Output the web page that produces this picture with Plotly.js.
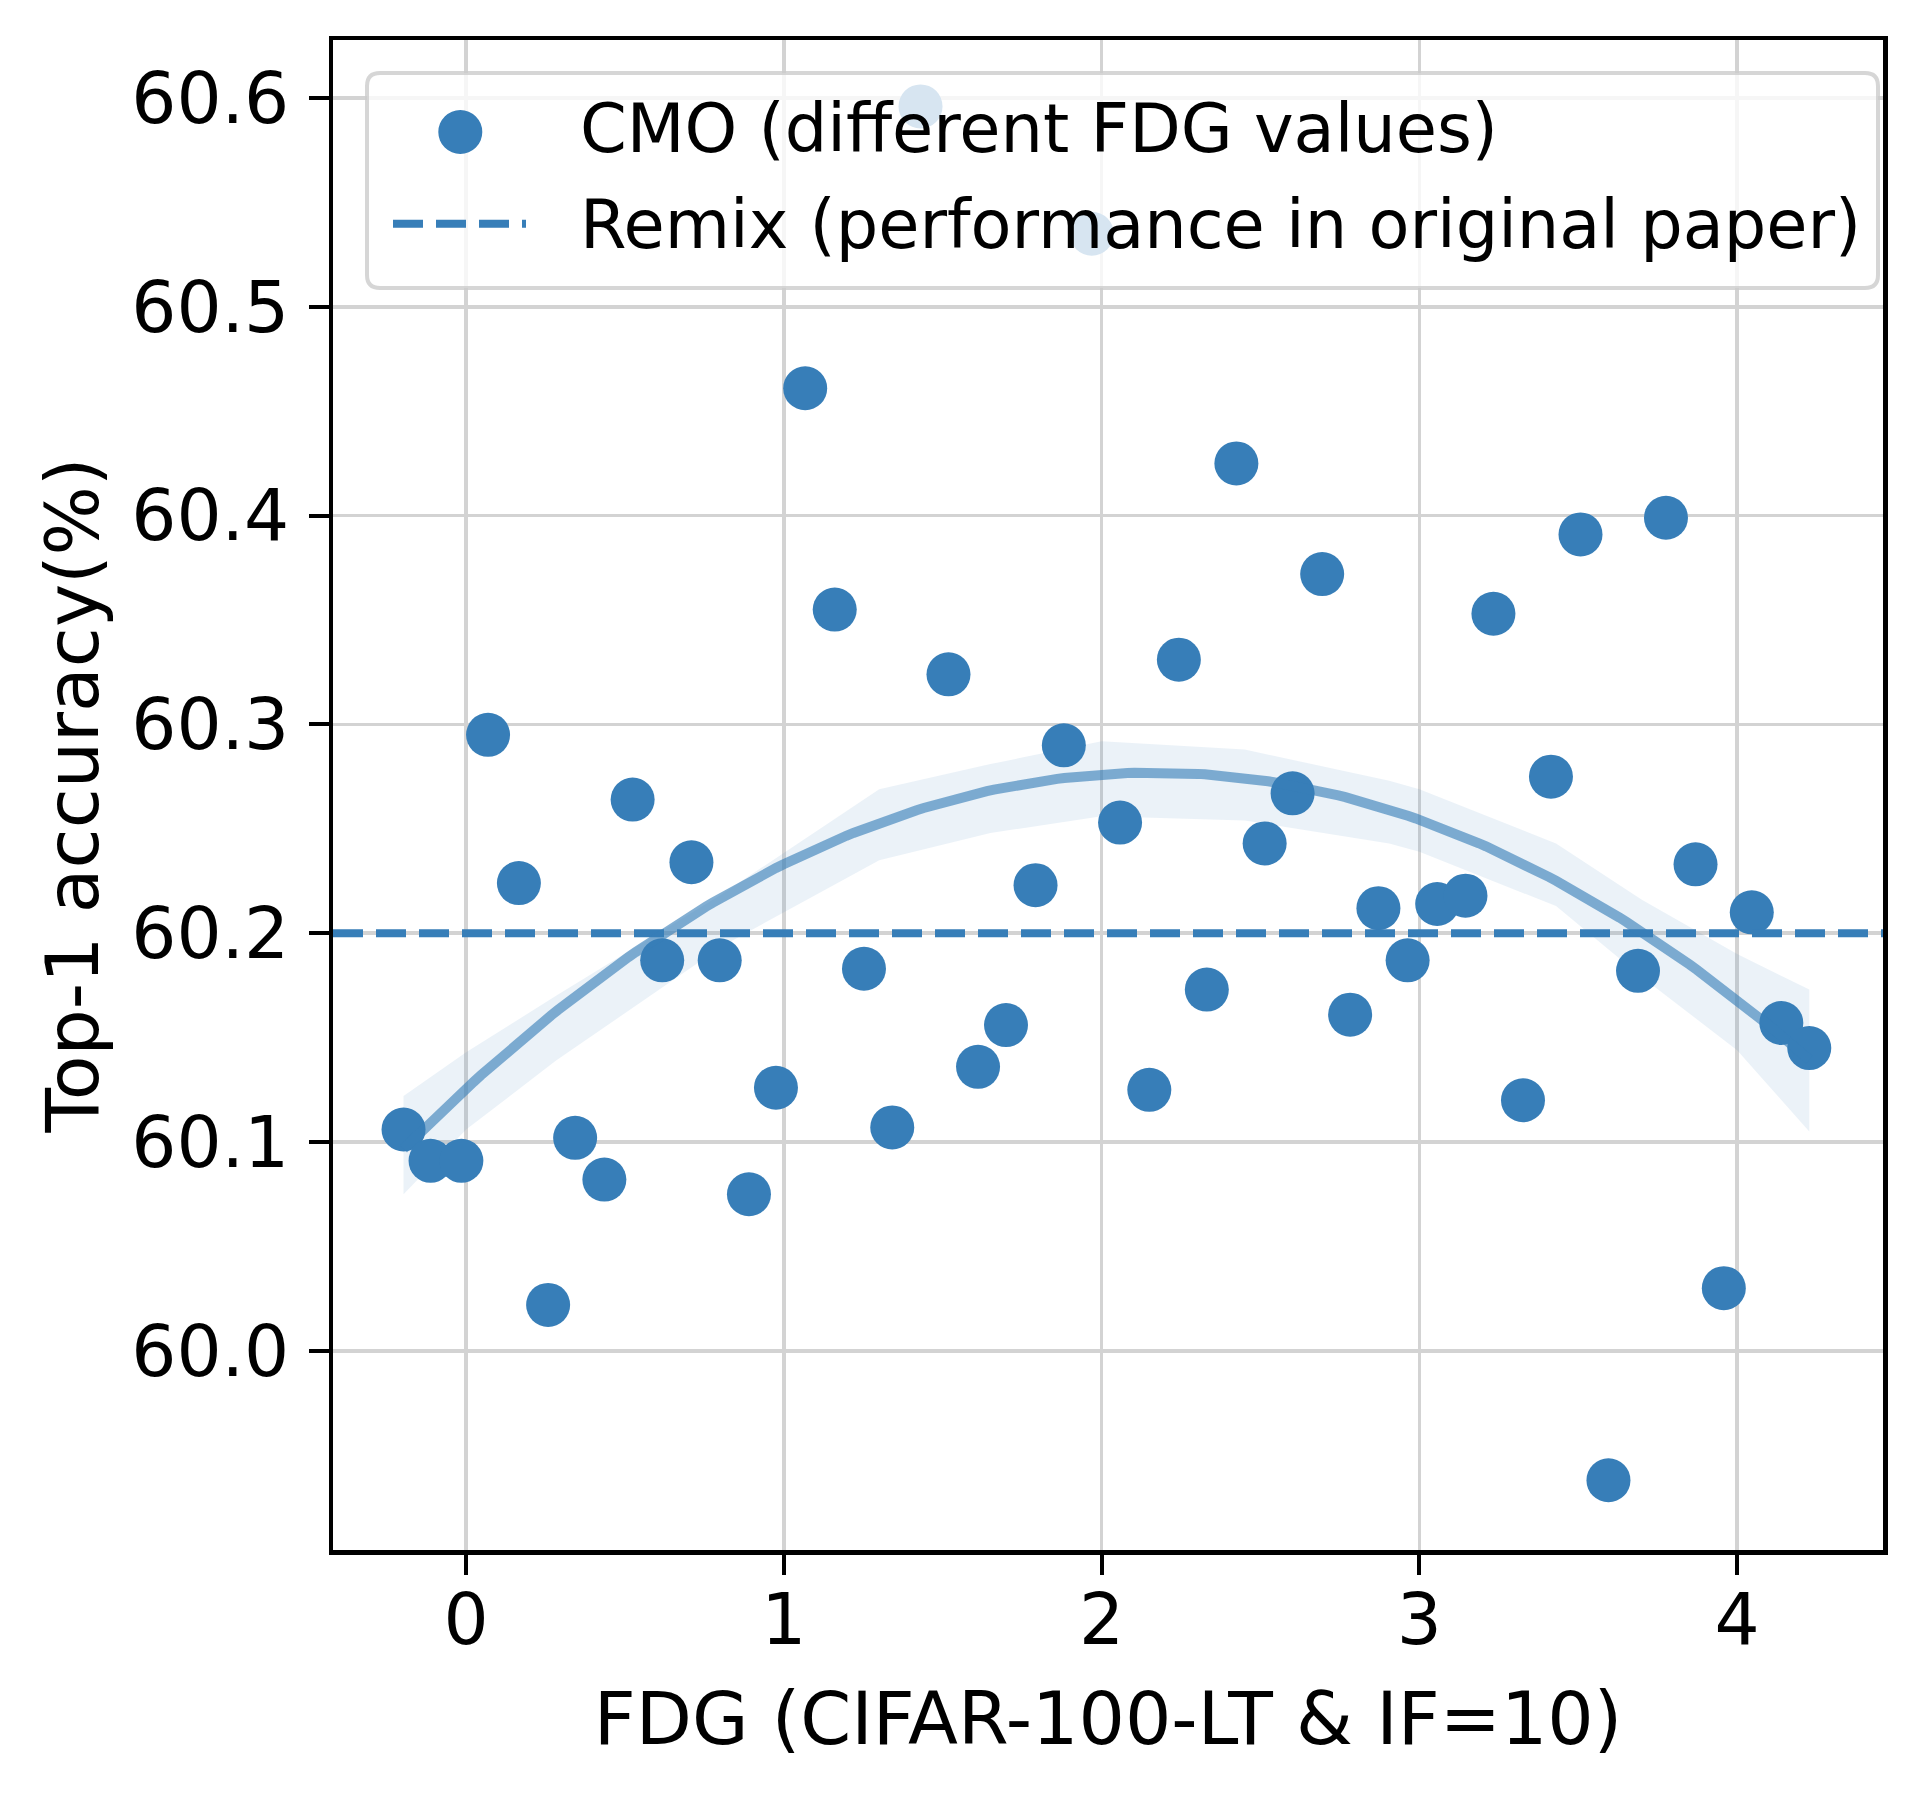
<!DOCTYPE html>
<html><head><meta charset="utf-8">
<script src="https://cdn.plot.ly/plotly-3.0.1.min.js"></script>
<style>html,body{margin:0;padding:0;background:#fff;} #chart{width:1923px;height:1793px;}</style>
</head><body><div id="chart"></div>
<script>
// ---- data ----
const fdg = [-0.197,-0.112,-0.015,0.069,0.166,0.258,0.343,0.435,0.524,0.617,
             0.709,0.798,0.890,0.975,1.067,1.160,1.252,1.341,1.430,1.518,
             1.611,1.699,1.792,1.881,1.969,2.058,2.150,2.243,2.331,2.424,
             2.513,2.601,2.694,2.782,2.871,2.963,3.056,3.145,3.233,3.326,
             3.414,3.507,3.595,3.688,3.776,3.869,3.958,4.046,4.139,4.227];
const top1 = [60.106,60.091,60.091,60.295,60.224,60.022,60.102,60.082,60.264,60.187,
              60.234,60.187,60.075,60.126,60.461,60.355,60.183,60.107,60.596,60.324,
              60.136,60.156,60.223,60.290,60.535,60.253,60.125,60.331,60.173,60.425,
              60.243,60.267,60.372,60.161,60.212,60.187,60.214,60.218,60.353,60.120,
              60.275,60.391,59.938,60.182,60.399,60.233,60.030,60.210,60.157,60.145];
// confidence band of the fitted curve, edges
const bandX     = [-0.197, 0.000, 0.283, 0.808, 1.300, 1.650, 2.000, 2.450, 2.905, 3.000, 3.430, 3.700, 4.000, 4.227];
const bandUpper = [60.122,60.143,60.170,60.219,60.269,60.281,60.292,60.288,60.273,60.269,60.243,60.216,60.190,60.173];
const bandLower = [60.075,60.106,60.139,60.194,60.235,60.248,60.256,60.254,60.243,60.239,60.213,60.179,60.144,60.105];
const remixAcc = 60.2;
const xTickVals = [0,1,2,3,4];
const xTickText = ['0','1','2','3','4'];
const yTickVals = [60.0,60.1,60.2,60.3,60.4,60.5,60.6];
const yTickText = ['60.0','60.1','60.2','60.3','60.4','60.5','60.6'];
const xRange = [-0.419, 4.459];
const yRange = [59.9046, 60.6278];
const seriesName = 'CMO (different FDG values)';
const refName = 'Remix (performance in original paper)';
const xTitle = 'FDG (CIFAR-100-LT & IF=10)';
const yTitle = 'Top-1 accuracy(%)';

// ---- quadratic least-squares fit (order-2 regression line) ----
function inv3(m){
  const [a,b,c]=m[0],[d,e,f]=m[1],[g,h,i]=m[2];
  const A=e*i-f*h,B=-(d*i-f*g),C=d*h-e*g;
  const det=a*A+b*B+c*C;
  return [[A/det,-(b*i-c*h)/det,(b*f-c*e)/det],
          [B/det,(a*i-c*g)/det,-(a*f-c*d)/det],
          [C/det,-(a*h-b*g)/det,(a*e-b*d)/det]];
}
const n = fdg.length;
const XtX=[[0,0,0],[0,0,0],[0,0,0]], Xty=[0,0,0];
for(let k=0;k<n;k++){
  const r=[1,fdg[k],fdg[k]*fdg[k]];
  for(let i=0;i<3;i++){Xty[i]+=r[i]*top1[k];for(let j=0;j<3;j++)XtX[i][j]+=r[i]*r[j];}
}
const Inv=inv3(XtX);
const beta=[0,1,2].map(i=>Inv[i][0]*Xty[0]+Inv[i][1]*Xty[1]+Inv[i][2]*Xty[2]);
const xmin=Math.min(...fdg), xmax=Math.max(...fdg);
const gx=[],gy=[];
for(let k=0;k<=200;k++){
  const x=xmin+(xmax-xmin)*k/200;
  gx.push(x); gy.push(beta[0]+beta[1]*x+beta[2]*x*x);
}

const blue='#377eb8';
const font='DejaVu Sans, Liberation Sans, sans-serif';
const traces=[
  {x:bandX.concat(bandX.slice().reverse()), y:bandUpper.concat(bandLower.slice().reverse()),
   type:'scatter', mode:'lines', fill:'toself', fillcolor:'rgba(55,126,184,0.1)',
   line:{width:0}, showlegend:false, hoverinfo:'skip'},
  {x:fdg, y:top1, type:'scatter', mode:'markers', name:seriesName,
   marker:{size:44, color:blue, line:{width:0}}},
  {x:xRange, y:[remixAcc, remixAcc], type:'scatter', mode:'lines', name:refName,
   line:{color:blue, width:8, dash:'30px,13px'}},
  {x:gx, y:gy, type:'scatter', mode:'lines', line:{color:'rgba(55,126,184,0.62)', width:10},
   showlegend:false, hoverinfo:'skip'}
];

// ---- legend (framed box in paper coordinates) ----
const W=1923, H=1793, M={l:333, r:40, t:40, b:243};
const PW=W-M.l-M.r, PH=H-M.t-M.b;
const px=v=>(v-M.l)/PW, py=v=>1-(v-M.t)/PH;
const bx0=px(367), bx1=px(1878), by0=py(73), by1=py(288), rx=13/PW, ry=13/PH;
const boxPath=`M${bx0+rx},${by0} L${bx1-rx},${by0} Q${bx1},${by0} ${bx1},${by0-ry} L${bx1},${by1+ry} Q${bx1},${by1} ${bx1-rx},${by1} L${bx0+rx},${by1} Q${bx0},${by1} ${bx0},${by1+ry} L${bx0},${by0-ry} Q${bx0},${by0} ${bx0+rx},${by0} Z`;
const shapes=[
  {type:'path', xref:'paper', yref:'paper', path:boxPath, layer:'above',
   fillcolor:'rgba(255,255,255,0.8)', line:{color:'rgba(204,204,204,0.8)', width:4}},
  {type:'circle', xref:'paper', yref:'paper', layer:'above',
   x0:px(460.3-22), x1:px(460.3+22), y0:py(132+22), y1:py(132-22),
   fillcolor:blue, line:{width:0}},
  {type:'line', xref:'paper', yref:'paper', layer:'above',
   x0:px(393), x1:px(526), y0:py(223.7), y1:py(223.7),
   line:{color:blue, width:8, dash:'30px,13px'}}
];
const annotations=[
  {xref:'paper', yref:'paper', x:px(578), y:py(129), xanchor:'left', yanchor:'middle',
   text:seriesName, showarrow:false, font:{family:font, size:67, color:'black'}},
  {xref:'paper', yref:'paper', x:px(578), y:py(225), xanchor:'left', yanchor:'middle',
   text:refName, showarrow:false, font:{family:font, size:67, color:'black'}}
];

const axisCommon={showline:true, linecolor:'black', linewidth:4.5, mirror:true,
  ticks:'outside', ticklen:20, tickwidth:4, tickcolor:'black',
  showgrid:true, gridcolor:'#d3d3d3', gridwidth:3.5, zeroline:false,
  tickfont:{family:font, size:71, color:'black'}};
const layout={
  width:W, height:H, paper_bgcolor:'white', plot_bgcolor:'white',
  margin:{l:M.l, r:M.r, t:M.t, b:M.b, autoexpand:false},
  showlegend:false,
  xaxis:Object.assign({}, axisCommon, {range:xRange, tickvals:xTickVals, ticktext:xTickText,
    ticklabelstandoff:-16,
    title:{text:xTitle, font:{family:font, size:73, color:'black'}, standoff:34}}),
  yaxis:Object.assign({}, axisCommon, {range:yRange, tickvals:yTickVals, ticktext:yTickText,
    ticklabelstandoff:5,
    title:{text:yTitle, font:{family:font, size:73, color:'black'}, standoff:10}}),
  shapes:shapes, annotations:annotations
};
Plotly.newPlot('chart', traces, layout, {displayModeBar:false, staticPlot:true});
</script></body></html>
